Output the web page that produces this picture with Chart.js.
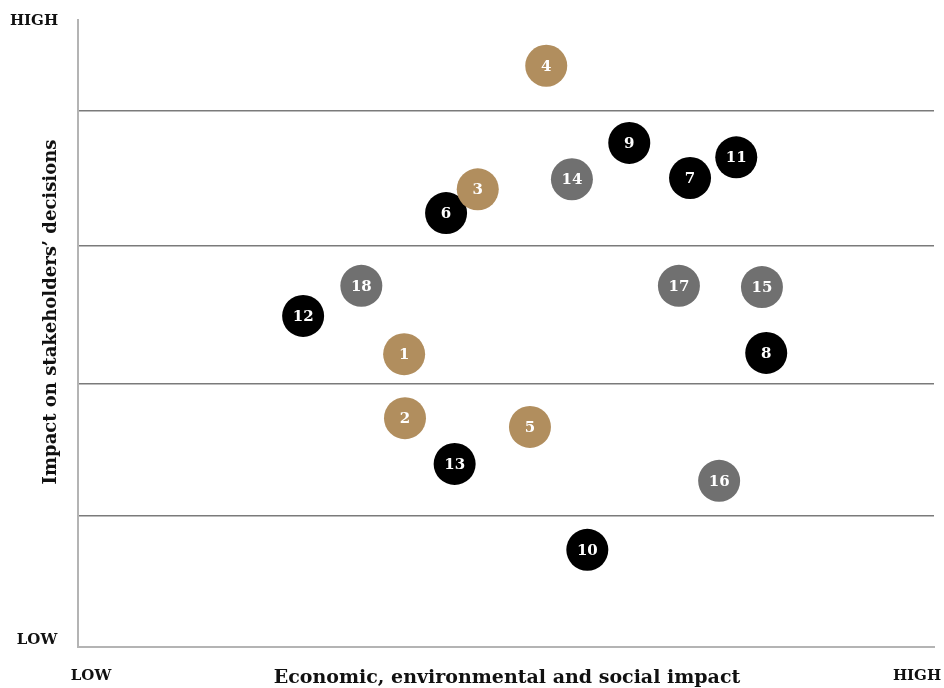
<!DOCTYPE html>
<html>
<head>
<meta charset="utf-8">
<script src="https://cdn.jsdelivr.net/npm/chart.js@4/dist/chart.umd.min.js"></script>
<style>
  html, body { margin: 0; padding: 0; background: #fff; }
  #wrap { width: 944px; height: 688px; position: relative; }
</style>
</head>
<body>
<div id="wrap"><canvas id="materialidade"></canvas></div>
<script>
// topic numbers, x = economic/env/social impact, y = impact on stakeholders
const topics = [4, 9, 11, 7, 14, 3, 6, 18, 17, 15, 12, 1, 8, 2, 5, 13, 16, 10];
const econImpact = [54.7, 64.4, 76.9, 71.5, 57.7, 46.7, 43.0, 33.1, 70.2, 79.9, 26.3, 38.1, 80.4, 38.2, 52.8, 44.0, 74.9, 59.5];
const stakeImpact = [92.7, 80.4, 78.1, 74.8, 74.6, 73.0, 69.2, 57.6, 57.6, 57.4, 52.8, 46.7, 46.9, 36.5, 35.1, 29.2, 26.5, 15.5];
const grupo = ["gold", "black", "black", "black", "gray", "gold", "black", "gray", "gray", "gray", "black", "gold", "black", "gold", "gold", "black", "gray", "black"];
const faixas = [21, 42, 64, 85.5];
const coresGrupo = { gold: "#b18e5e", gray: "#707070", black: "#000000" };
const ordemGrupos = ["gold", "gray", "black"];

const datasets = ordemGrupos.map(g => {
    const pts = [];
    topics.forEach((t, i) => {
        if (grupo[i] == g) pts.push({ x: econImpact[i], y: stakeImpact[i], n: t });
    });
    return {
        data: pts,
        backgroundColor: coresGrupo[g],
        pointRadius: 21,
        pointHoverRadius: 21,
        borderWidth: 0
    };
});

const serif = '"DejaVu Serif", "Liberation Serif", serif';

const textos = {
    id: "textos",
    afterDatasetsDraw(chart) {
        const ctx = chart.ctx;
        ctx.save();
        ctx.fillStyle = "#fff";
        ctx.textAlign = "center";
        ctx.textBaseline = "middle";
        ctx.font = "bold 15px " + serif;
        chart.data.datasets.forEach((ds, di) => {
            chart.getDatasetMeta(di).data.forEach((el, i) => {
                ctx.fillText(String(ds.data[i].n), el.x, el.y + 1);
            });
        });
        ctx.restore();
    },
    afterDraw(chart) {
        const ctx = chart.ctx;
        ctx.save();
        ctx.fillStyle = "#111";
        ctx.textBaseline = "middle";
        ctx.textAlign = "center";
        ctx.font = "bold 15px " + serif;
        ctx.fillText("HIGH", 34, 21);
        ctx.fillText("LOW", 37, 640);
        ctx.fillText("LOW", 91, 676);
        ctx.fillText("HIGH", 917, 676);
        ctx.font = "bold 19px " + serif;
        ctx.fillText("Economic, environmental and social impact", 507, 678);
        ctx.font = "bold 18px " + serif;
        ctx.translate(51, 312);
        ctx.rotate(-Math.PI / 2);
        ctx.fillText("Impact on stakeholders\u2019 decisions", 0, 0);
        ctx.restore();
    }
};

new Chart(document.getElementById("materialidade"), {
    type: "scatter",
    data: { datasets: datasets },
    options: {
        responsive: true,
        maintainAspectRatio: false,
        animation: false,
        layout: { autoPadding: false, padding: { left: 78, top: 20, right: 10, bottom: 41 } },
        plugins: { legend: { display: false }, tooltip: { enabled: false } },
        scales: {
            x: {
                min: 0, max: 100,
                ticks: { display: false },
                grid: { display: false, drawTicks: false },
                border: { display: true, color: "#b4b4b4", width: 2 }
            },
            y: {
                min: 0, max: 100,
                afterBuildTicks: (scale) => { scale.ticks = faixas.map(v => ({ value: v })); },
                ticks: { display: false },
                grid: { color: "#7a7a7a", lineWidth: 1.5, drawTicks: false },
                border: { display: true, color: "#b4b4b4", width: 2 }
            }
        }
    },
    plugins: [textos]
});
</script>
</body>
</html>
